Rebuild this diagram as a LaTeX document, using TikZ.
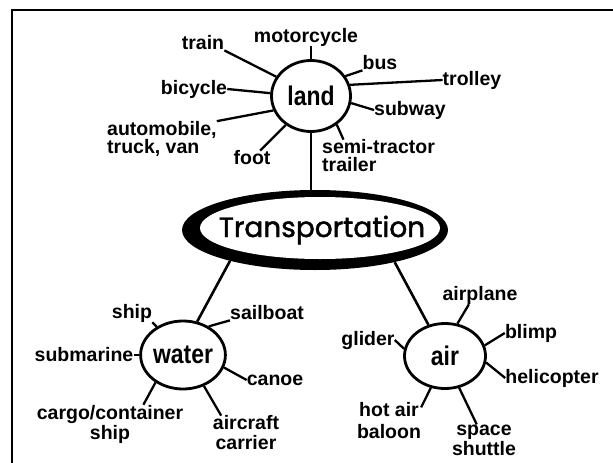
\documentclass[tikz,border=0pt]{standalone}
\usepackage{fontspec}
\setmainfont{Liberation Sans}
\newfontfamily\hubfont[FakeStretch=0.85]{Liberation Sans}
\newfontfamily\titlefont[FakeBold=1.6]{Poppins}
\usetikzlibrary{shapes.geometric}
\begin{document}
\begin{tikzpicture}[x=1pt,y=-1pt,
  hub/.style={ellipse, draw, line width=2.8pt, fill=white, inner sep=0pt,
    font=\hubfont\bfseries\fontsize{27}{27}\selectfont},
  item/.style={inner sep=0pt, font=\bfseries\fontsize{19.5}{18}\selectfont},
  spoke/.style={line width=2.3pt},
  link/.style={line width=2.6pt}]

\useasboundingbox (0,0) rectangle (613,463);
\fill[white] (0,0) rectangle (613,463);
% page frame
\draw[line width=2pt] (12,463) -- (12,10) -- (613,10);

% central topic: black ellipse with an offset white ellipse on top
\node[ellipse, fill=black, minimum width=266pt, minimum height=80pt, inner sep=0pt] (trans) at (315,230) {};
\node[ellipse, fill=white, minimum width=240pt, minimum height=62pt, inner sep=0pt] (transin) at (320,228) {};
\node[inner sep=0pt, font=\titlefont\fontsize{28}{28}\selectfont] (title) at (322,230) {Transportation};

% sub-topics
\node[hub, minimum width=79pt, minimum height=71pt] (land) at (311,96) {land};
\node[hub, minimum width=77pt, minimum height=68pt] (water) at (183,355) {water};
\node[hub, minimum width=81pt, minimum height=65pt] (air) at (445,356) {air};

% land items
\node[item] (train) at (203,43) {train};
\node[item] (motorcycle) at (306,37) {motorcycle};
\node[item] (bus) at (380,63) {bus};
\node[item] (trolley) at (472,80) {trolley};
\node[item] (bicycle) at (194,89) {bicycle};
\node[item] (subway) at (410,110) {subway};
\node[item, align=left, anchor=west, font=\bfseries\fontsize{19.5}{16}\selectfont] (auto) at (107,139) {automobile,\\truck, van};
\node[item] (foot) at (252,158) {foot};
\node[item, align=left, anchor=west] (semi) at (322,156) {semi-tractor\\trailer};

% water items
\node[item] (ship) at (132,313) {ship};
\node[item] (sailboat) at (267,313) {sailboat};
\node[item] (submarine) at (84,355) {submarine};
\node[item] (canoe) at (275,380) {canoe};
\node[item, align=center, font=\bfseries\fontsize{19.5}{20}\selectfont] (cargo) at (110,424) {cargo/container\\ship};
\node[item, align=center, font=\bfseries\fontsize{19.5}{20}\selectfont] (aircraft) at (246,433) {aircraft\\carrier};

% air items
\node[item] (airplane) at (480,295) {airplane};
\node[item] (blimp) at (531,333) {blimp};
\node[item] (glider) at (368,340) {glider};
\node[item] (helicopter) at (552,378) {helicopter};
\node[item, align=center, font=\bfseries\fontsize{19.5}{22}\selectfont] (hotair) at (389,421) {hot air\\baloon};
\node[item, align=center, font=\bfseries\fontsize{19.5}{20}\selectfont] (space) at (484,440) {space\\shuttle};

% links to the central topic
\draw[link] (land.south) -- (trans.north -| land.south);
\draw[link] (water.67) -- (trans.200);
\draw[link] (air.118) -- (trans.-22);

% land spokes
\draw[spoke] (land.151) -- (train.south east);
\draw[spoke] (land.north) -- (land.north |- motorcycle.south);
\draw[spoke] (land.30) -- (bus.south west);
\draw[spoke] (land.16) -- (trolley.west);
\draw[spoke] (land.176) -- (bicycle.east);
\draw[spoke] (land.-10) -- (subway.west);
\draw[spoke] (land.201) -- (auto.north east);
\draw[spoke] (land.229) -- (foot.42);
\draw[spoke] (land.-48) -- (semi.155);

% water spokes
\draw[spoke] (water.133) -- (ship.south east);
\draw[spoke] (water.48) -- (sailboat.south west);
\draw[spoke] (water.180) -- (submarine.east);
\draw[spoke] (water.-17) -- (canoe.west);
\draw[spoke] (water.225) -- (cargo.30);
\draw[spoke] (water.-56) -- (aircraft.145);

% air spokes
\draw[spoke] (air.69) -- (airplane.220);
\draw[spoke] (air.15) -- (blimp.west);
\draw[spoke] (air.170) -- (glider.east);
\draw[spoke] (air.-9) -- (helicopter.west);
\draw[spoke] (air.246) -- (hotair.23);
\draw[spoke] (air.-66) -- (space.115);
\end{tikzpicture}
\end{document}
